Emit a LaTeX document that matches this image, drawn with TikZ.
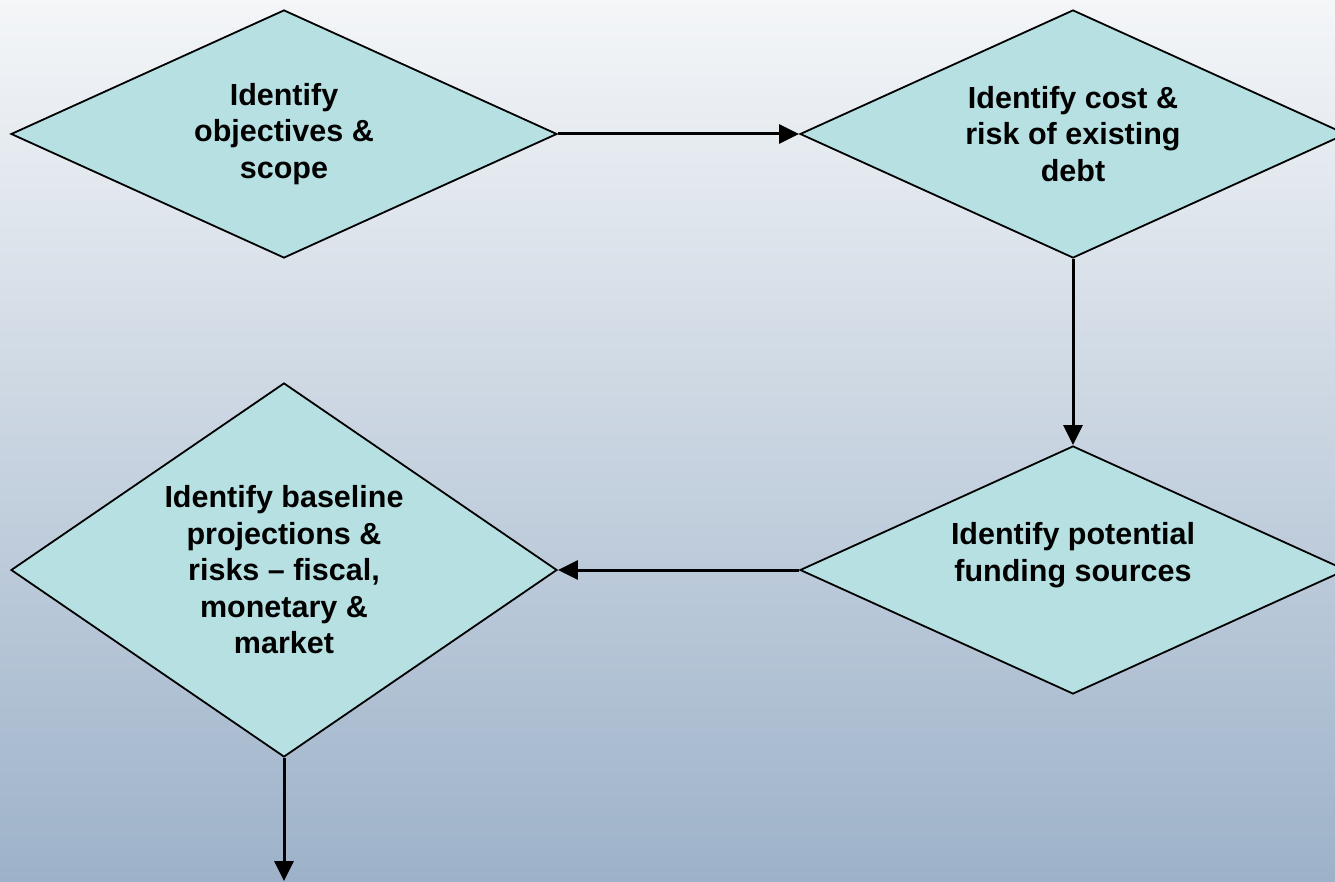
\documentclass[tikz,border=0pt]{standalone}
\usepackage{fontspec}
\setmainfont{Liberation Sans}
\usetikzlibrary{shapes.geometric,arrows.meta}
\definecolor{stagefill}{HTML}{B7E0E2}
\definecolor{bgtop}{HTML}{F4F6F8}
\definecolor{bgbottom}{HTML}{9DB2C9}
\begin{document}
\begin{tikzpicture}[x=1pt,y=-1pt,
    stage/.style={diamond,aspect=2.2,draw=black,line width=1.8pt,fill=stagefill,
      inner sep=0pt,minimum width=546pt,minimum height=248pt,align=center,
      font=\fontsize{30.5}{36.5}\selectfont\bfseries},
    flow/.style={line width=3pt,-{Triangle[length=20pt,width=19pt]}}]
  \shade[top color=bgtop,bottom color=bgbottom] (0,0) rectangle (1335,882);
  \useasboundingbox (0,0) rectangle (1335,882);
  \draw
    (284,134) node[stage] (scope){Identify\\objectives \&\\scope}
    (1073,134) node[stage] (debt){Identify cost \&\\risk of existing\\debt}
    (1073,570) node[stage] (funding){Identify potential\\funding sources\\\mbox{}}
    (284,570) node[stage,aspect=1.46,minimum height=374pt] (baseline){Identify baseline\\projections \&\\risks -- fiscal,\\monetary \&\\market};
  \coordinate (next) at (284,881);
  \begin{scope}[flow]
    \draw (scope.east) to (debt.west);
    \draw (debt.south) to (funding.north);
    \draw (funding.west) to (baseline.east);
    \draw (baseline.south) to (next);
  \end{scope}
\end{tikzpicture}
\end{document}
